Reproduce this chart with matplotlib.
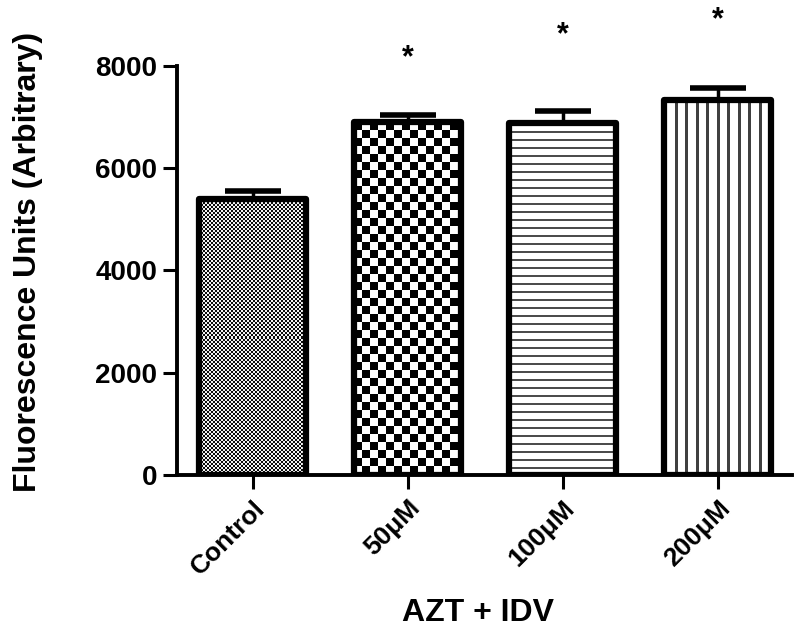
import numpy as np
import matplotlib
matplotlib.use("Agg")
import matplotlib.pyplot as plt

plt.rcParams['font.family'] = ['Liberation Sans', 'DejaVu Sans']
plt.rcParams['font.weight'] = 'bold'

# data
groups = ['Control', '50\u03bcM', '100\u03bcM', '200\u03bcM']
means = [5400, 6900, 6880, 7330]
sem = [150, 140, 230, 230]
stars = ['', '*', '*', '*']
star_y = [0, 8150, 8600, 8900]

fig = plt.figure(figsize=(8, 6.4), dpi=100)
ax = fig.add_axes([0.221, 0.258, 0.769, 0.639])

x = np.arange(len(groups))
width = 0.69
ax.set_xlim(-0.49, 3.48)
ax.set_ylim(0, 8000)

bars = ax.bar(x, means, width, facecolor='none', edgecolor='black', linewidth=4.5,
              joinstyle='round', zorder=3)
eb = ax.errorbar(x, means, yerr=[np.zeros(len(sem)), sem], fmt='none', ecolor='black',
                 elinewidth=2.5, capsize=20.5, capthick=4, zorder=2)
for cap in eb[1]:
    cap.set_solid_capstyle('round')

# pixel size of data units, used to build the fill textures
px_x = ax.transData.transform((1, 0))[0] - ax.transData.transform((0, 0))[0]
px_y = ax.transData.transform((0, 1000))[1] - ax.transData.transform((0, 0))[1]


def texture(kind, w_px, h_px):
    yy, xx = np.mgrid[0:h_px, 0:w_px]
    if kind == 'fine':
        img = np.where((xx // 2 + yy // 2) % 2 == 0, 0.05, 0.95)
    elif kind == 'coarse':
        img = np.where((xx // 8 + yy // 8) % 2 == 0, 0.0, 1.0)
    elif kind == 'hline':
        img = np.where(yy % 8 < 2, 0.3, 1.0)
    else:
        img = np.where(xx % 10.5 < 2.7, 0.25, 1.0)
    return img


kinds = ['fine', 'coarse', 'hline', 'vline']
for b, kind in zip(bars, kinds):
    x0, w, h = b.get_x(), b.get_width(), b.get_height()
    w_px = int(round(w * px_x))
    h_px = int(round(h / 1000 * px_y))
    im = ax.imshow(texture(kind, w_px, h_px), cmap='gray', vmin=0, vmax=1,
                   extent=[x0, x0 + w, 0, h], interpolation='nearest',
                   aspect='auto', zorder=2.5)
    im.set_clip_path(b)
ax.set_xlim(-0.49, 3.48)
ax.set_ylim(0, 8000)

for xi, s, sy in zip(x, stars, star_y):
    if s:
        ax.text(xi, sy, s, ha='center', va='center', fontsize=22,
                fontweight='bold', clip_on=False)

ax.spines['top'].set_visible(False)
ax.spines['right'].set_visible(False)
ax.spines['left'].set_linewidth(2.8)
ax.spines['bottom'].set_linewidth(2.8)

ax.set_yticks([0, 2000, 4000, 6000, 8000])
ax.set_xticks(x)
ax.set_xticklabels(groups, rotation=45, ha='right', rotation_mode='anchor')
ax.tick_params(axis='both', width=2.2, length=10, labelsize=20, direction='out')
ax.tick_params(axis='x', labelsize=19, pad=5)
ax.tick_params(axis='y', pad=4)
for lab in ax.get_xticklabels() + ax.get_yticklabels():
    lab.set_fontweight('bold')

ax.set_ylabel('Fluorescence Units (Arbitrary)', fontsize=23, fontweight='bold')
ax.yaxis.set_label_coords(-0.218, 0.52)
ax.set_xlabel('AZT + IDV', fontsize=23, fontweight='bold')
ax.xaxis.set_label_coords(0.49, -0.3)

fig.savefig('out.png', dpi=100)
